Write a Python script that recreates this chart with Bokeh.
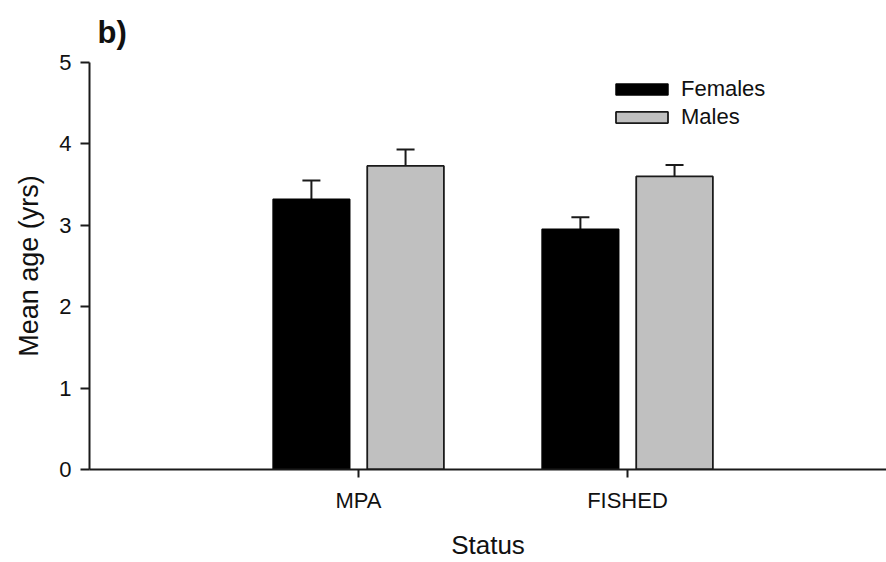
from bokeh.plotting import figure
from bokeh.models import ColumnDataSource, Whisker, TeeHead, Legend, LegendItem, FixedTicker
from bokeh.embed import file_html
from bokeh.resources import INLINE

# Data
statuses = ["MPA", "FISHED"]
females_mean = [3.32, 2.95]
females_se = [0.23, 0.15]
males_mean = [3.73, 3.60]
males_se = [0.20, 0.14]
y_ticks = [0, 1, 2, 3, 4, 5]

FONT = "Liberation Sans"
offset = 0.175
bar_w = 0.285

centers = [i + 1 for i in range(len(statuses))]

p = figure(width=886, height=562, x_range=(0, 2.963), y_range=(0, 5),
           output_backend="svg", toolbar_location=None,
           min_border_left=89, min_border_right=0, min_border_top=62, min_border_bottom=93)
p.outline_line_color = None
p.xgrid.visible = False
p.ygrid.visible = False
p.background_fill_color = "white"
p.border_fill_color = "white"

f_src = ColumnDataSource(dict(x=[c - offset for c in centers], top=females_mean,
                              up=[m + s for m, s in zip(females_mean, females_se)]))
m_src = ColumnDataSource(dict(x=[c + offset for c in centers], top=males_mean,
                              up=[m + s for m, s in zip(males_mean, males_se)]))

fr = p.vbar(x="x", top="top", width=bar_w, bottom=0, source=f_src,
            fill_color="#000000", line_color="#000000", line_width=1.5)
mr = p.vbar(x="x", top="top", width=bar_w, bottom=0, source=m_src,
            fill_color="#c0c0c0", line_color="#1a1a1a", line_width=1.8)

for src in (f_src, m_src):
    w = Whisker(source=src, base="x", lower="top", upper="up", dimension="height",
                line_color="#1a1a1a", line_width=2,
                upper_head=TeeHead(size=18, line_width=2, line_color="#1a1a1a"),
                lower_head=None)
    p.add_layout(w)

# Axes
for ax in (p.xaxis[0], p.yaxis[0]):
    ax.axis_line_width = 2
    ax.axis_line_color = "#1a1a1a"
    ax.major_tick_line_width = 2
    ax.major_tick_line_color = "#1a1a1a"
    ax.major_tick_in = 0
    ax.minor_tick_line_color = None
    ax.major_label_text_font = FONT
    ax.axis_label_text_font = FONT
    ax.axis_label_text_font_style = "normal"
    ax.major_label_text_color = "#111111"
    ax.axis_label_text_color = "#111111"

p.yaxis.ticker = FixedTicker(ticks=y_ticks)
p.yaxis.major_tick_out = 9
p.yaxis.major_label_text_font_size = "22px"
p.yaxis.major_label_standoff = 9
p.yaxis.axis_label = "Mean age (yrs)"
p.yaxis.axis_label_text_font_size = "27px"
p.yaxis.axis_label_standoff = 12

p.xaxis.ticker = FixedTicker(ticks=centers)
p.xaxis.major_label_overrides = {c: s for c, s in zip(centers, statuses)}
p.xaxis.major_tick_out = 8
p.xaxis.major_label_text_font_size = "22px"
p.xaxis.major_label_standoff = 10
p.xaxis.axis_label = "Status"
p.xaxis.axis_label_text_font_size = "26px"
p.xaxis.axis_label_standoff = 14

# Panel label
p.title.text = "b)"
p.title.text_font = FONT
p.title.text_font_style = "bold"
p.title.text_font_size = "31px"
p.title.text_color = "#111111"
p.title.align = "left"
p.title.offset = 8
p.title.standoff = 25

legend = Legend(items=[LegendItem(label="Females", renderers=[fr]),
                       LegendItem(label="Males", renderers=[mr])],
                location=(520, 339), orientation="vertical",
                glyph_width=65, glyph_height=14, label_height=20, spacing=2,
                label_standoff=7, padding=0, margin=0,
                label_text_font=FONT, label_text_font_size="22px",
                label_text_color="#111111",
                border_line_alpha=0, background_fill_alpha=0)
p.add_layout(legend)

open("out.html", "w").write(file_html(p, INLINE))
